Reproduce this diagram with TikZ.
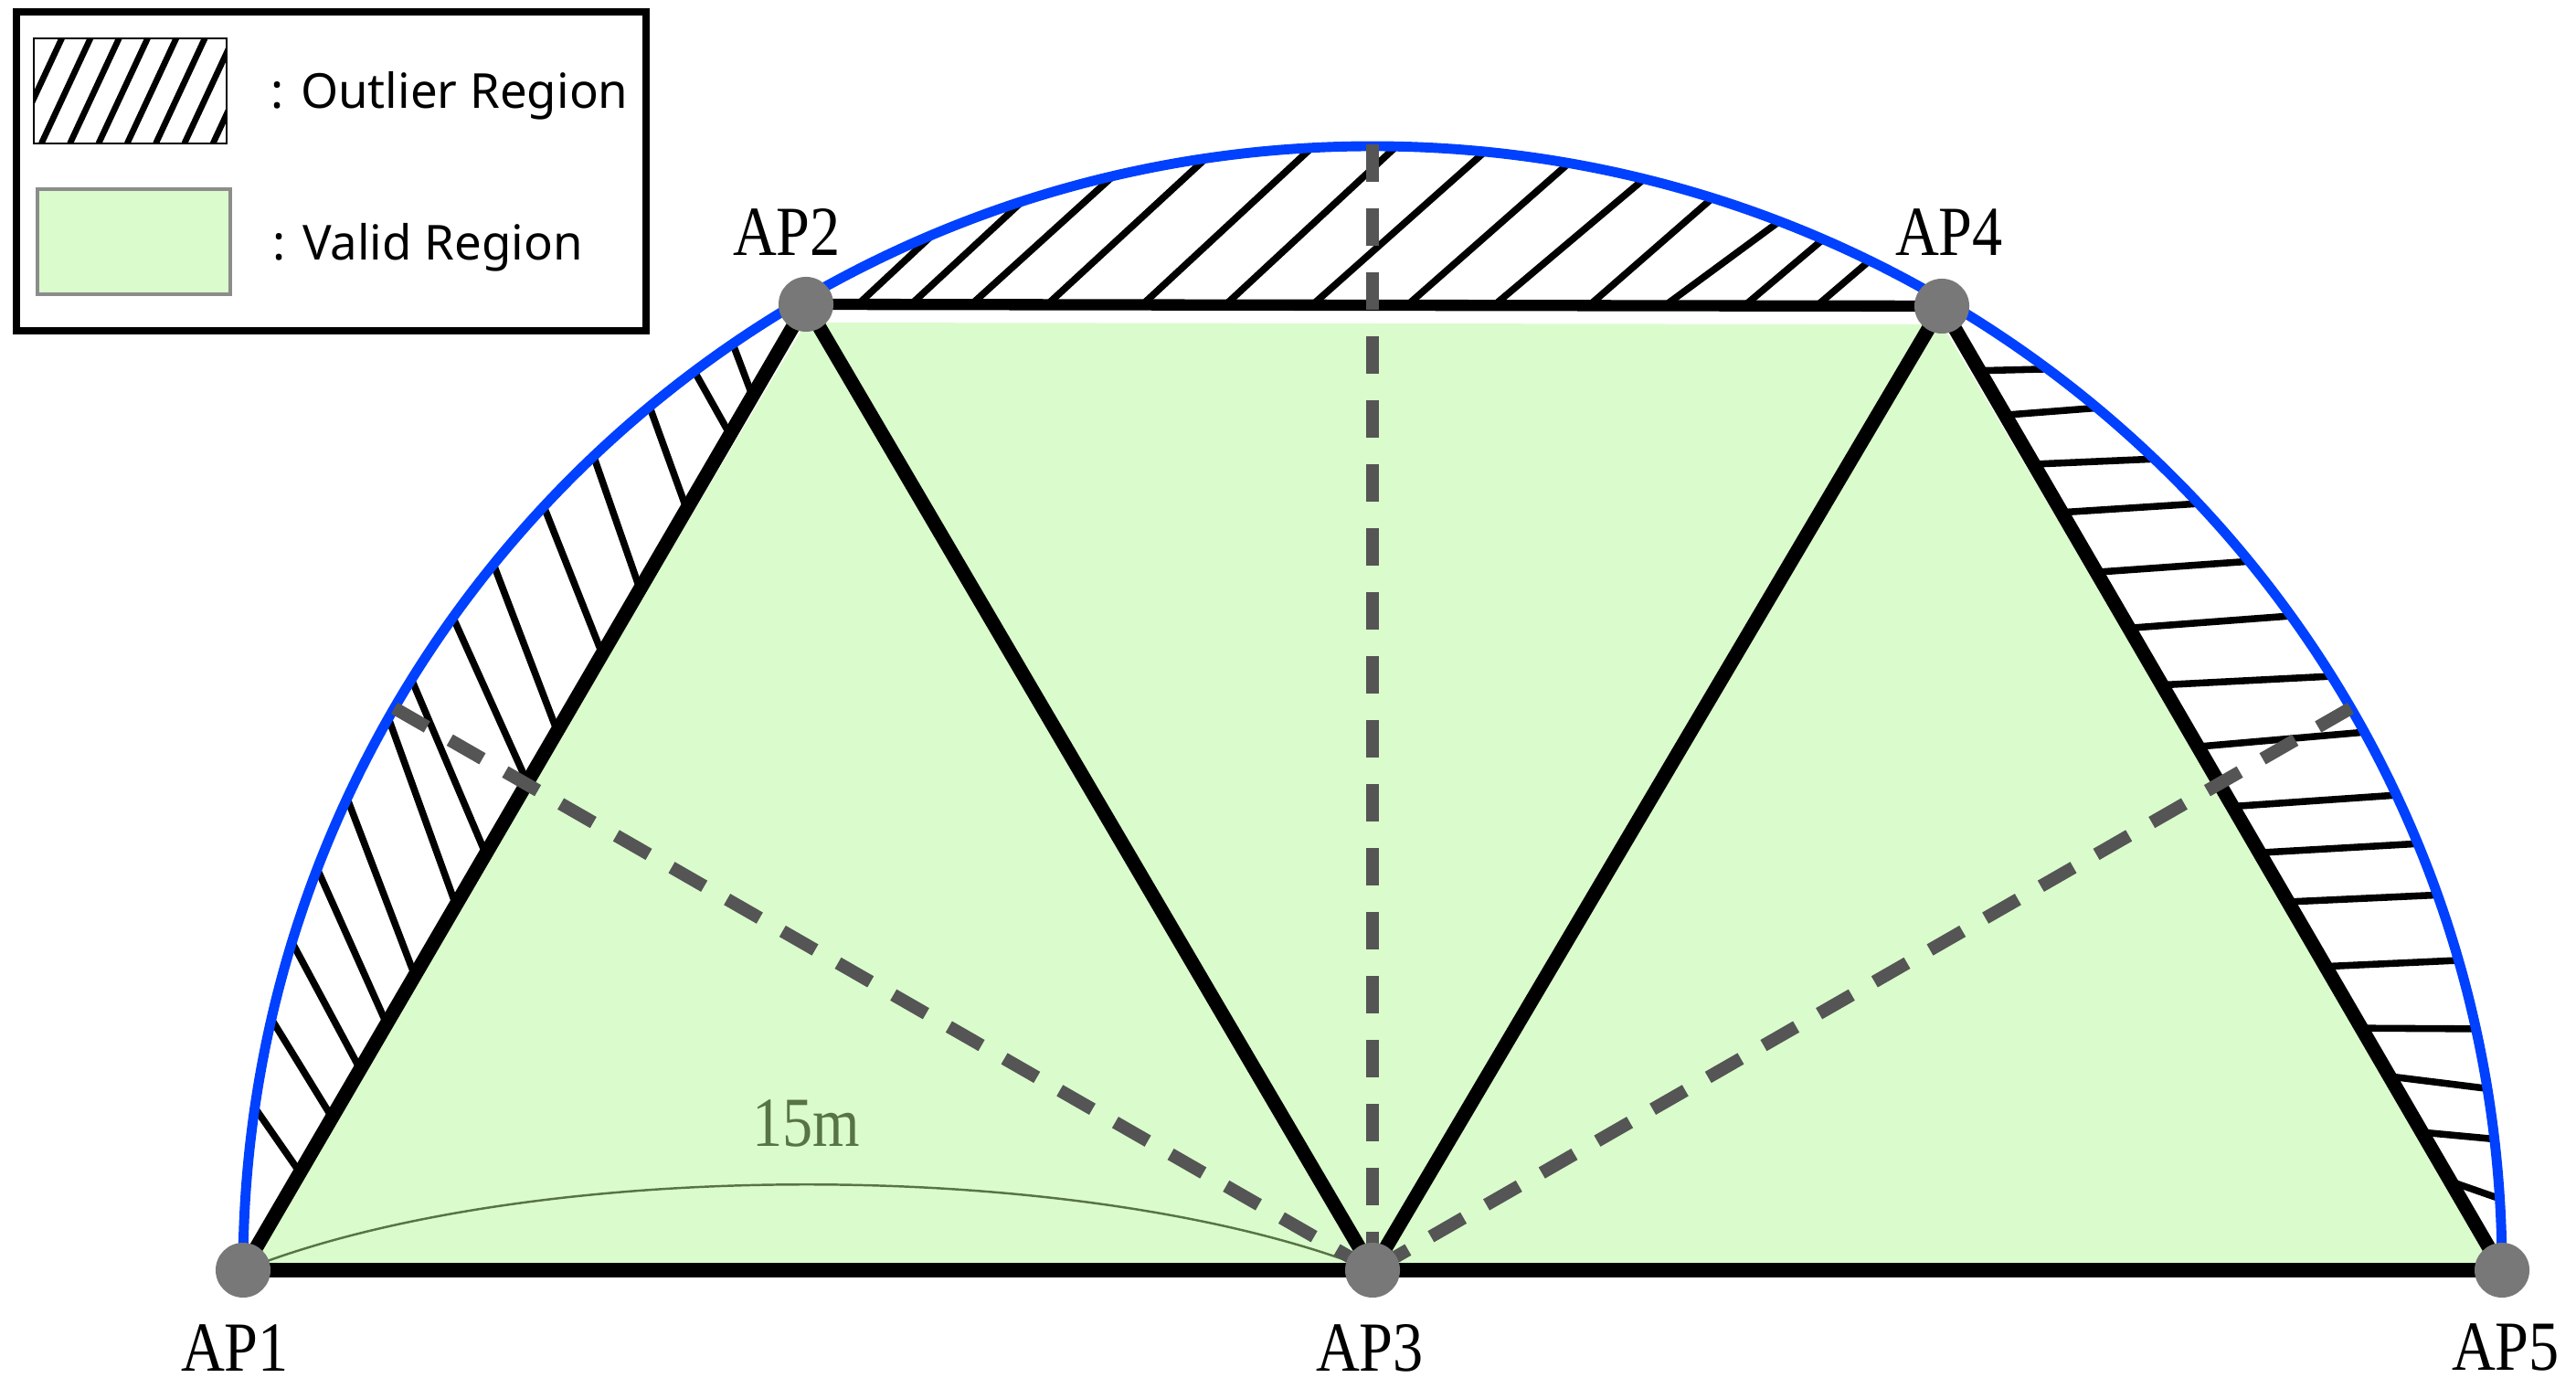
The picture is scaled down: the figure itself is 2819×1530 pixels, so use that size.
\documentclass[tikz,border=0pt]{standalone}
\usepackage{fontspec}
\setmainfont{Liberation Serif}
\newfontfamily\apfont[FakeStretch=0.86]{Liberation Serif}
\newfontfamily\legfont{Noto Sans}
\usetikzlibrary{calc}
\definecolor{validgreen}{RGB}{218,252,204}
\definecolor{outblue}{RGB}{0,64,255}
\definecolor{dotgray}{RGB}{120,120,120}
\definecolor{dashgray}{RGB}{85,85,85}
\definecolor{labgreen}{RGB}{88,116,70}
\definecolor{boxgray}{RGB}{140,140,140}
\begin{document}
\begin{tikzpicture}[x=0.01cm,y=0.01cm,
  edge/.style={line width=4.4pt},
  baseedge/.style={line width=4.6pt},
  chordedge/.style={line width=3.5pt},
  hatchline/.style={line width=2.15pt},
  radial/.style={dashgray, line width=4pt, dash pattern=on 11.7pt off 8.2pt},
  rim/.style={outblue, line width=3.1pt},
  apdot/.style={circle, fill=dotgray, minimum size=0.6cm, inner sep=0pt},
  aplabel/.style={font=\apfont\fontsize{21.9}{26}\selectfont, anchor=base, inner sep=0pt},
  legtext/.style={font=\legfont\fontsize{15}{18}\selectfont, anchor=base west, inner sep=0pt},
  legframe/.style={line width=2.2pt},
]
\useasboundingbox (0,0) rectangle (2819,1530);
\coordinate (c1) at (266,140);
\coordinate (c2) at (882,1197);
\coordinate (c3) at (1502,140);
\coordinate (c4) at (2125,1195);
\coordinate (c5) at (2738,140);

% valid region
\fill[validgreen] (c1) -- ($(c2)+(0,-20)$) -- ($(c4)+(0,-20)$) -- (c5) -- cycle;

% hatching of the outlier regions
\foreach \t/\a in {0.101/171.7,0.158/167.1,0.208/163.05,0.255/159.1,0.305/155.2,0.378/150.6,0.431/148.3,0.505/144.5,0.558/141.1,0.638/137.2,0.705/133.6,0.788/129.8,0.865/126.9,0.905/124.5}
  \draw[hatchline] ($(c1)!\t!(c2)$) -- ($(c3)+({1236*cos(\a)},{1230*sin(\a)})$);
\foreach \t/\a in {0.0459/112.95,0.0925/108.1,0.1456/103.3,0.2124/98.5,0.2961/93.1,0.3693/88.8,0.4457/84.3,0.5294/80.0,0.6058/76.1,0.6895/72.5,0.7562/68.9,0.8262/66.5,0.8898/63.9}
  \draw[hatchline] ($(c2)!\t!(c4)$) -- ($(c3)+({1236*cos(\a)},{1230*sin(\a)})$);
\foreach \t/\a in {0.067/53.3,0.113/50.1,0.164/46.2,0.214/43.0,0.276/39.1,0.334/35.6,0.393/31.9,0.457/28.6,0.519/25.0,0.567/22.3,0.618/19.5,0.685/16.0,0.749/12.4,0.799/9.3,0.857/6.7,0.908/3.65}
  \draw[hatchline] ($(c4)!\t!(c5)$) -- ($(c3)+({1236*cos(\a)},{1230*sin(\a)})$);

% 15 m distance mark
\draw[labgreen, line width=0.7pt] (c1) .. controls (580,265) and (1185,265) .. (c3);
\node[aplabel, text=labgreen] (dist) at (882,276) {15m};

% triangle edges
\draw[edge] (c1) -- (c2);
\draw[edge] (c2) -- (c3);
\draw[edge] (c3) -- (c4);
\draw[edge] (c4) -- (c5);
\draw[chordedge] (c2) -- (c4);
\draw[baseedge] (c1) -- (c5);

% coverage boundary
\draw[rim] (c1) arc[start angle=180, end angle=0, x radius=1236, y radius=1230];

% radial dashed lines
\coordinate (r150) at ($(c3)+({1236*cos(150)},{1230*sin(150)})$);
\coordinate (r90) at ($(c3)+(0,1232)$);
\coordinate (r30) at ($(c3)+({1236*cos(30)},{1230*sin(30)})$);
\draw[radial] (r150) -- (c3);
\draw[radial] (r90) -- (c3);
\draw[radial] (r30) -- (c3);

% access points
\node[apdot] (AP1) at (c1) {};
\node[apdot] (AP2) at (c2) {};
\node[apdot] (AP3) at (c3) {};
\node[apdot] (AP4) at (c4) {};
\node[apdot] (AP5) at (c5) {};
\node[aplabel] (L1) at (257,30) {AP1};
\node[aplabel] (L2) at (861,1250) {AP2};
\node[aplabel] (L3) at (1499,30) {AP3};
\node[aplabel] (L4) at (2133,1250) {AP4};
\node[aplabel] (L5) at (2742,31) {AP5};

% legend
\draw[legframe] (18,1168) rectangle (707,1517);
\begin{scope}
  \clip (37,1373) rectangle (248,1488);
  \foreach \k in {0,...,7}
    \draw[line width=1.9pt] ({14+31.3*\k},1373) -- ++(65:135);
\end{scope}
\draw[line width=0.8pt] (37,1373) rectangle (248,1488);
\draw[fill=validgreen, draw=boxgray, line width=0.9pt] (41,1208) rectangle (252,1323);
\node[legtext] (t1) at (296,1411) {: Outlier Region};
\node[legtext] (t2) at (298,1245) {: Valid Region};
\end{tikzpicture}
\end{document}
